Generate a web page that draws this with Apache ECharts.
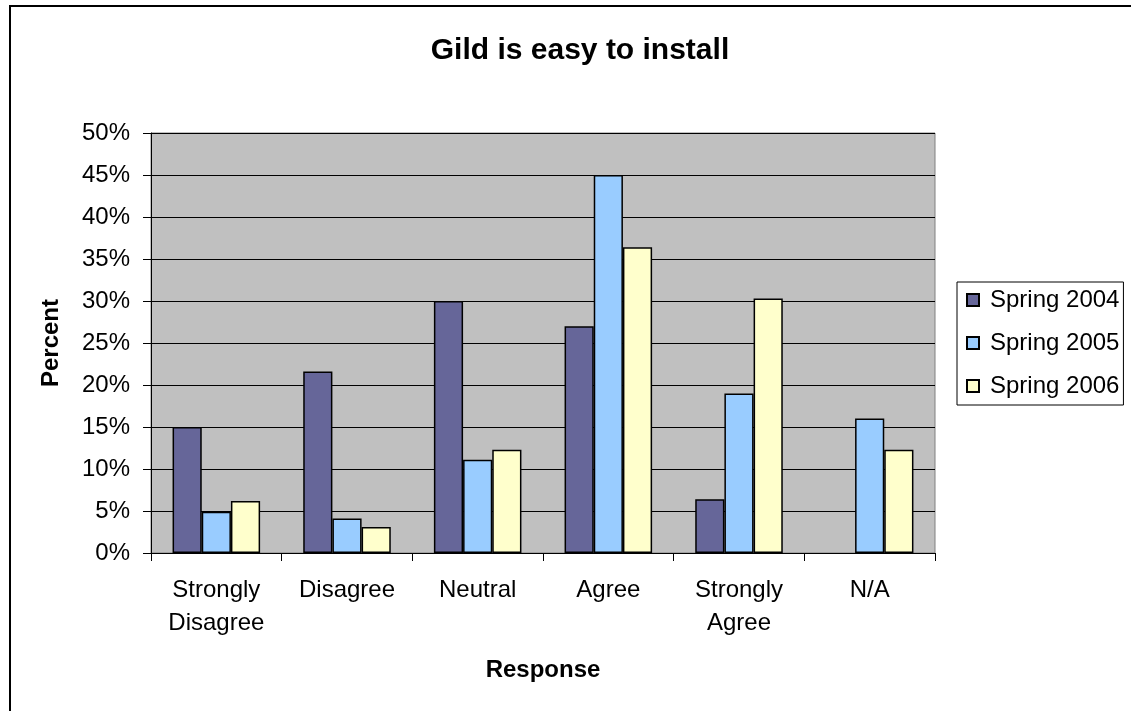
<!DOCTYPE html>
<html>
<head>
<meta charset="utf-8">
<script src="https://cdn.jsdelivr.net/npm/echarts@6/dist/echarts.min.js"></script>
<style>
  html, body { margin: 0; padding: 0; background: #fff; }
  #chart { width: 1131px; height: 711px; }
</style>
</head>
<body>
<div id="chart"></div>
<script>
const categories = ['Strongly\nDisagree', 'Disagree', 'Neutral', 'Agree', 'Strongly\nAgree', 'N/A'];
const spring2004 = [15, 21.6, 30, 27, 6.4, null];
const spring2005 = [4.9, 4.1, 11.1, 45, 19, 16];
const spring2006 = [6.2, 3.1, 12.3, 36.4, 30.3, 12.3];

const font = 'Liberation Sans, Arial, sans-serif';
const myChart = echarts.init(document.getElementById('chart'));

const barStyle = (color) => ({ color: color, borderColor: '#000', borderWidth: 1.5 });

const option = {
  animation: false,
  textStyle: { fontFamily: font },
  graphic: [{
    type: 'rect',
    shape: { x: 10, y: 6, width: 1140, height: 720 },
    style: { fill: 'none', stroke: '#000', lineWidth: 2 }
  }],
  title: {
    text: 'Gild is easy to install',
    left: 575, top: 31, textAlign: 'center',
    textStyle: { fontFamily: font, fontSize: 30, fontWeight: 'bold', color: '#000' }
  },
  legend: {
    orient: 'vertical',
    left: 957, top: 282,
    padding: [6, 4, 7, 9],
    itemGap: 19,
    itemWidth: 12, itemHeight: 12,
    icon: 'rect',
    borderColor: '#000', borderWidth: 1,
    textStyle: { fontFamily: font, fontSize: 24, color: '#000', padding: [0, 0, 0, 6] },
    data: ['Spring 2004', 'Spring 2005', 'Spring 2006']
  },
  grid: {
    left: 151, right: 196, top: 133, bottom: 158,
    show: true, backgroundColor: '#c0c0c0', borderColor: '#808080', borderWidth: 1
  },
  xAxis: {
    type: 'category',
    data: categories,
    name: 'Response',
    nameLocation: 'middle',
    nameGap: 105,
    nameTextStyle: { fontFamily: font, fontSize: 24, fontWeight: 'bold', color: '#000' },
    axisLine: { lineStyle: { color: '#000', width: 1 } },
    axisTick: { show: true, length: 8, lineStyle: { color: '#000' } },
    axisLabel: { fontFamily: font, fontSize: 24, color: '#000', margin: 21, lineHeight: 33, interval: 0 }
  },
  yAxis: {
    type: 'value',
    min: 0, max: 50, interval: 5,
    name: 'Percent',
    nameLocation: 'middle',
    nameGap: 88,
    nameTextStyle: { fontFamily: font, fontSize: 24, fontWeight: 'bold', color: '#000' },
    axisLine: { show: true, lineStyle: { color: '#000', width: 1 } },
    axisTick: { show: true, length: 8, lineStyle: { color: '#000' } },
    axisLabel: { fontFamily: font, fontSize: 24, color: '#000', margin: 21, formatter: '{value}%' },
    splitLine: { show: true, lineStyle: { color: '#000', width: 1 } }
  },
  series: [
    { name: 'Spring 2004', type: 'bar', data: spring2004, barGap: '0%', barCategoryGap: '33%', itemStyle: barStyle('#666699') },
    { name: 'Spring 2005', type: 'bar', data: spring2005, itemStyle: barStyle('#99ccff') },
    { name: 'Spring 2006', type: 'bar', data: spring2006, itemStyle: barStyle('#ffffcc') }
  ]
};

myChart.setOption(option);
</script>
</body>
</html>
